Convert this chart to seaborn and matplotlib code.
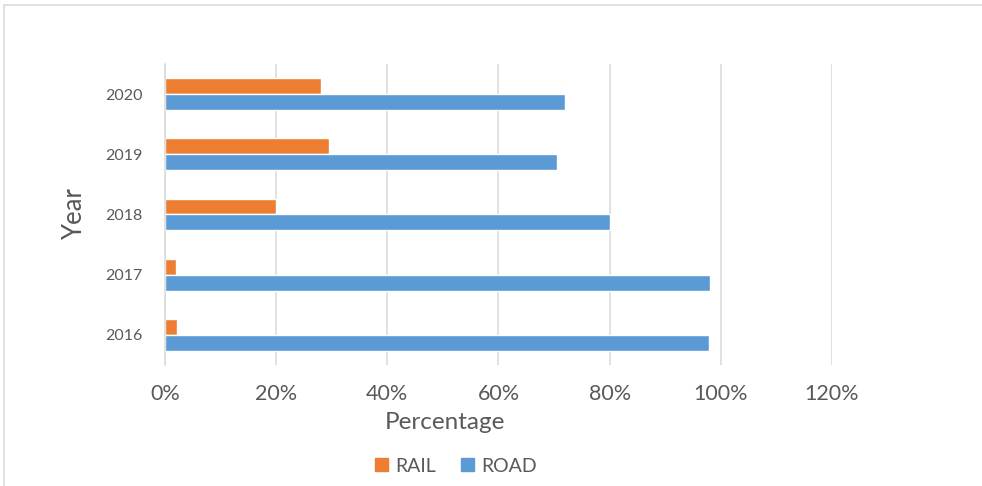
import matplotlib
matplotlib.use("Agg")
import matplotlib.pyplot as plt
from matplotlib.lines import Line2D
from matplotlib.ticker import PercentFormatter
import pandas as pd
import seaborn as sns

# Share of freight by transport mode, per year (percent)
years = ["2020", "2019", "2018", "2017", "2016"]
rail_share = [28.0, 29.5, 20.0, 1.9, 2.2]
road_share = [72.0, 70.5, 80.0, 98.1, 97.8]
modes = ["RAIL", "ROAD"]
mode_colors = {"RAIL": "#ED7D31", "ROAD": "#5B9BD5"}
x_ticks = [0, 20, 40, 60, 80, 100, 120]

df = pd.DataFrame({
    "Year": years * 2,
    "Mode": ["RAIL"] * len(years) + ["ROAD"] * len(years),
    "Share": rail_share + road_share,
})

sns.set_theme(style="white")
plt.rcParams["font.family"] = ["Lato", "DejaVu Sans"]
text_color = "#595959"
grid_color = "#D9D9D9"

fig = plt.figure(figsize=(9.82, 4.86), dpi=100)
ax = fig.add_axes([165 / 982, 1 - 365 / 486, 667 / 982, 301 / 486])

sns.barplot(data=df, x="Share", y="Year", hue="Mode", order=years,
            hue_order=modes, palette=mode_colors, orient="h",
            width=0.53, saturation=1, errorbar=None, ax=ax, legend=False)

ax.set_xlim(0, 120)
ax.set_xticks(x_ticks)
ax.xaxis.set_major_formatter(PercentFormatter(xmax=100, decimals=0))
ax.grid(axis="x", color=grid_color, linewidth=1.1)
ax.grid(axis="y", visible=False)
ax.set_axisbelow(True)
for side in ["top", "right", "bottom"]:
    ax.spines[side].set_visible(False)
ax.spines["left"].set_color(grid_color)
ax.spines["left"].set_linewidth(1.1)

ax.tick_params(axis="x", length=0, pad=14, labelsize=15.5, labelcolor=text_color)
ax.tick_params(axis="y", length=0, pad=16, labelsize=11.5, labelcolor=text_color)

ax.set_xlabel("Percentage", fontsize=17.5, color=text_color)
ax.set_ylabel("Year", fontsize=18.5, color=text_color)
ax.xaxis.set_label_coords(0.42, -0.155)
ax.yaxis.set_label_coords(-0.117, 0.5)

handles = [plt.Rectangle((0, 0), 1, 1, color=mode_colors[m]) for m in modes]
fig.legend(handles, modes, loc="center", bbox_to_anchor=(456 / 982, 1 - 466 / 486),
           ncol=2, frameon=False, fontsize=14, labelcolor=text_color,
           handlelength=0.67, handleheight=0.67, handletextpad=0.35,
           columnspacing=1.3, borderaxespad=0, borderpad=0)

# Chart area frame (top and left edges)
fig.add_artist(Line2D([4 / 982, 1.0], [1 - 5 / 486, 1 - 5 / 486],
                      transform=fig.transFigure, color=grid_color, linewidth=1.1))
fig.add_artist(Line2D([4 / 982, 4 / 982], [0.0, 1 - 5 / 486],
                      transform=fig.transFigure, color=grid_color, linewidth=1.1))

fig.savefig("out.png", dpi=100, facecolor="white")
